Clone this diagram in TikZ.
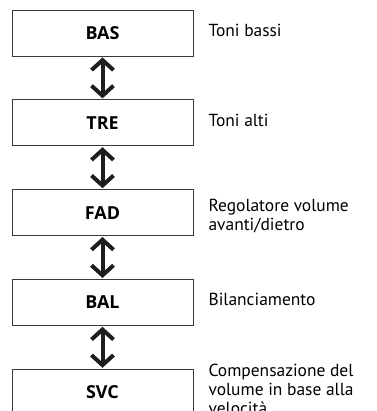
\documentclass[tikz,border=0pt]{standalone}
\usepackage{fontspec}
\setmainfont{PT Sans}
\newfontfamily\keyfont{Open Sans}
\usetikzlibrary{arrows.meta,positioning}
\definecolor{frame}{HTML}{3A3A3A}
\definecolor{ink}{HTML}{1E1E1E}

\begin{document}
\begin{tikzpicture}[x=1bp, y=-1bp,
  menubox/.style={draw=frame, line width=0.8bp, minimum width=181bp, minimum height=46bp,
    inner sep=0pt, font=\keyfont\fontsize{18}{19}\selectfont\bfseries},
  desc/.style={anchor=base west, align=left, inner sep=0pt,
    font=\fontsize{17.5}{19}\selectfont},
  swap/.style={draw=ink, line width=4bp,
    {Straight Barb[length=10bp,width=22bp]}-{Straight Barb[length=10bp,width=22bp]},
    shorten <=1bp, shorten >=1bp}]
  \useasboundingbox (0,0) rectangle (377,411);

  % menu entries
  \node[menubox] (bas) at (102.5,33) {BAS};
  \node[menubox, below=43bp of bas] (tre) {TRE};
  \node[menubox, below=43bp of tre] (fad) {FAD};
  \node[menubox, below=43bp of fad] (bal) {BAL};
  \node[menubox, below=43bp of bal] (svc) {SVC};

  % descriptions
  \node[desc] (bas-txt) at ([xshift=15bp, yshift=-3.5bp]bas.east) {Toni bassi};
  \node[desc] (tre-txt) at ([xshift=15bp, yshift=-3.5bp]tre.east) {Toni alti};
  \node[desc] (fad-txt) at ([xshift=15bp, yshift=-18bp]fad.east) {Regolatore volume\\avanti/dietro};
  \node[desc] (bal-txt) at ([xshift=15bp, yshift=-3.5bp]bal.east) {Bilanciamento};
  \node[desc] (svc-txt) at ([xshift=15bp, yshift=-22bp]svc.east) {Compensazione del\\volume in base alla\\velocit\`a};

  % scrolling order
  \draw[swap] (bas.south) -- (tre.north);
  \draw[swap] (tre.south) -- (fad.north);
  \draw[swap] (fad.south) -- (bal.north);
  \draw[swap] (bal.south) -- (svc.north);
\end{tikzpicture}
\end{document}
